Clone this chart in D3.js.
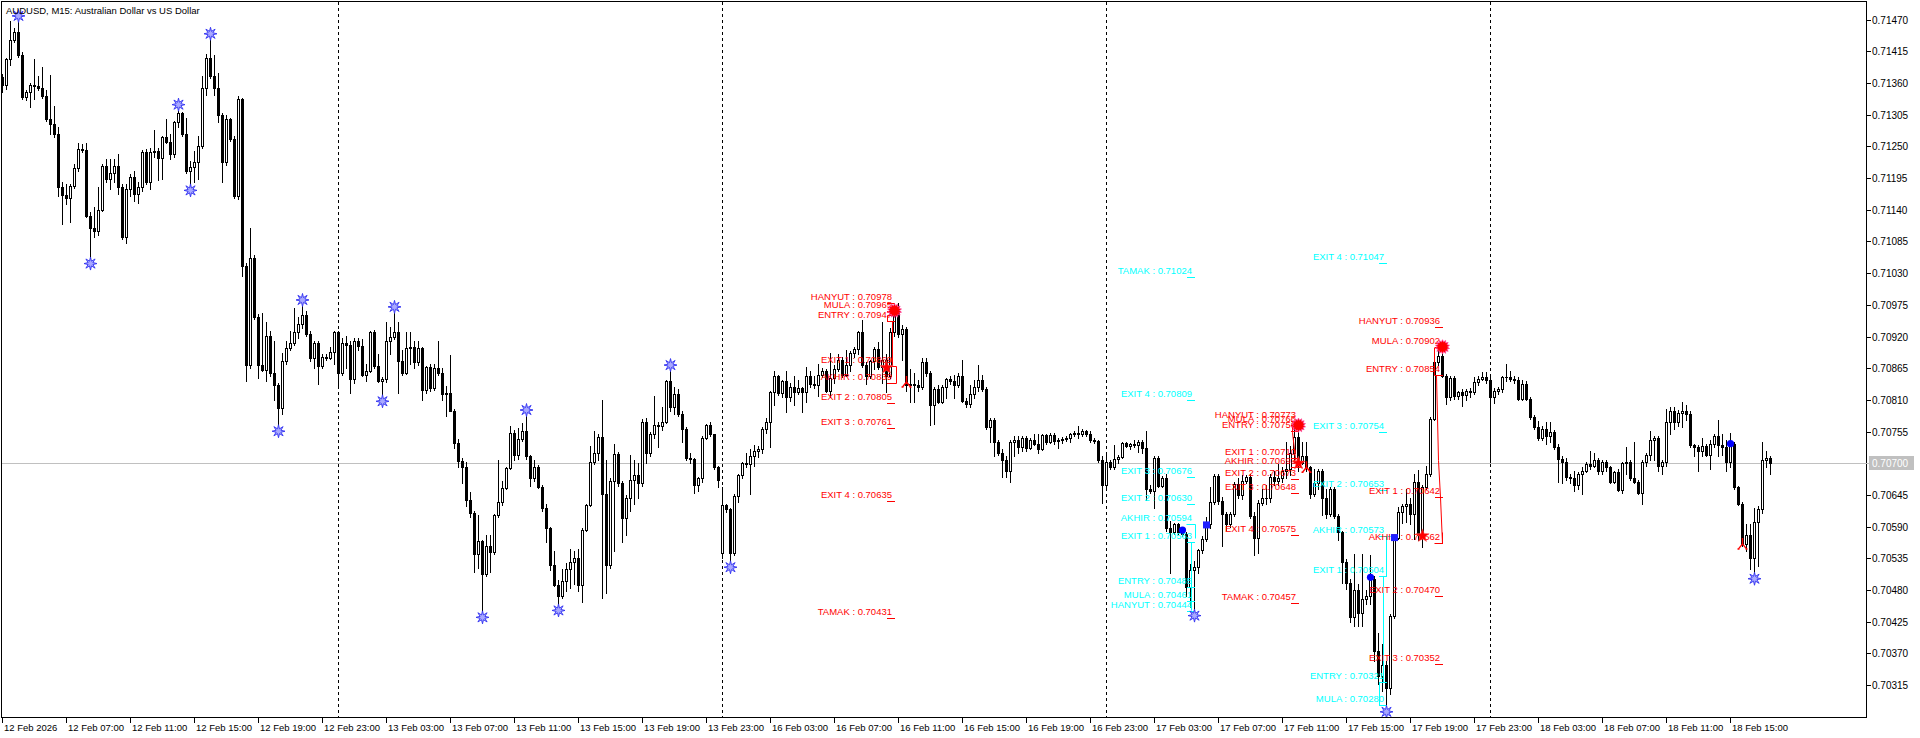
<!DOCTYPE html>
<html><head><meta charset="utf-8">
<script src="https://cdn.jsdelivr.net/npm/d3@7"></script>
<style>
html,body{margin:0;padding:0;background:#fff;}
svg{display:block;}
text{font-family:"Liberation Sans",Arial,sans-serif;}
</style></head><body>
<svg id="chart" width="1920" height="738"></svg>
<script>
// ---------- DATA (prices in points: value / 100000) ----------
const PRICE_DIV = 100000;
const opens = [
71371,71356,71401,71435,71449,71409,71336,71344,71357,71354,
71352,71338,71297,71288,71272,71180,71165,71160,71182,71212,
71246,71244,71130,71109,71103,71140,71216,71194,71204,71216,
71180,71093,71176,71196,71168,71180,71240,71188,71240,71242,
71230,71266,71258,71236,71292,71308,71272,71208,71215,71222,
71250,71352,71403,71372,71352,71304,71222,71297,71262,71164,
71332,71043,70871,71057,70953,70870,70862,70921,70856,70835,
70796,70877,70900,70909,70928,70941,70957,70925,70883,70909,
70868,70885,70883,70893,70928,70856,70909,70906,70846,70913,
70903,70854,70860,70928,70869,70843,70846,70912,70919,70927,
70877,70856,70900,70902,70875,70900,70827,70867,70830,70866,
70856,70820,70822,70791,70736,70704,70694,70636,70614,70543,
70565,70507,70556,70546,70610,70633,70657,70692,70752,70714,
70742,70756,70712,70674,70694,70658,70622,70588,70524,70489,
70469,70495,70516,70529,70535,70489,70585,70628,70702,70718,
70746,70647,70524,70670,70716,70666,70605,70639,70671,70680,
70665,70772,70718,70750,70766,70764,70772,70842,70798,70820,
70785,70760,70709,70707,70662,70674,70744,70766,70750,70693,
70545,70627,70620,70545,70643,70679,70701,70699,70712,70722,
70725,70760,70772,70823,70851,70822,70842,70815,70832,70823,
70830,70823,70852,70838,70835,70854,70861,70826,70848,70864,
70880,70854,70870,70892,70898,70927,70871,70851,70878,70899,
70867,70880,70851,70927,70962,70924,70933,70836,70838,70835,
70833,70876,70856,70801,70829,70807,70832,70846,70842,70835,
70851,70808,70802,70820,70832,70844,70829,70763,70775,70737,
70717,70706,70687,70737,70740,70728,70743,70727,70740,70734,
70725,70749,70737,70749,70738,70741,70742,70744,70751,70753,
70750,70756,70750,70741,70738,70706,70662,70703,70693,70707,
70711,70736,70730,70734,70732,70737,70727,70655,70652,70710,
70661,70675,70588,70580,70594,70580,70577,70485,70515,70520,
70549,70568,70595,70632,70678,70635,70612,70595,70612,70664,
70645,70670,70676,70608,70570,70631,70639,70640,70677,70670,
70674,70687,70690,70718,70745,70700,70712,70693,70646,70665,
70687,70639,70612,70655,70608,70580,70528,70493,70433,70480,
70440,70464,70470,70500,70375,70330,70350,70310,70435,70571,
70615,70626,70630,70612,70667,70575,70658,70681,70777,70875,
70887,70852,70815,70848,70817,70823,70818,70826,70823,70841,
70847,70849,70844,70815,70826,70829,70849,70850,70846,70844,
70812,70838,70812,70780,70763,70743,70760,70748,70754,70728,
70708,70703,70677,70674,70662,70681,70687,70699,70695,70706,
70687,70703,70693,70667,70684,70654,70700,70703,70674,70668,
70649,70703,70715,70741,70744,70696,70703,70772,70791,70772,
70788,70790,70785,70731,70728,70722,70730,70715,70734,70747,
70732,70728,70702,70734,70658,70630,70560,70576,70535,70598,
70620,70706,70709];
const highs = [
71375,71403,71467,71455,71466,71413,71348,71360,71401,71372,
71387,71348,71373,71320,71284,71188,71185,71185,71220,71256,
71254,71256,71136,71144,71180,71220,71228,71228,71228,71236,
71184,71184,71202,71207,71188,71243,71245,71248,71278,71248,
71268,71298,71272,71294,71312,71310,71300,71225,71242,71268,
71372,71411,71435,71409,71377,71308,71304,71300,71268,71338,
71334,71048,71109,71061,70959,70961,70945,70929,70913,70840,
70891,70913,70929,70969,70953,70973,70965,70929,70913,70913,
70889,70889,70901,70929,70929,70917,70921,70913,70917,70917,
70915,70873,70929,70931,70889,70850,70945,70937,70961,70945,
70897,70928,70928,70913,70913,70902,70869,70873,70873,70913,
70865,70834,70888,70795,70742,70710,70702,70650,70617,70610,
70567,70575,70575,70612,70706,70670,70694,70764,70758,70762,
70770,70782,70714,70706,70697,70662,70630,70590,70547,70497,
70517,70527,70551,70547,70551,70588,70630,70730,70756,70750,
70810,70706,70674,70734,70720,70670,70645,70715,70705,70700,
70776,70778,70755,70816,70772,70798,70845,70860,70832,70829,
70791,70763,70718,70710,70677,70747,70769,70772,70751,70696,
70658,70630,70622,70646,70682,70703,70718,70725,70731,70730,
70763,70779,70826,70861,70854,70845,70861,70840,70851,70845,
70832,70867,70861,70852,70873,70866,70864,70892,70870,70889,
70884,70897,70895,70902,70929,70949,70876,70880,70902,70911,
70946,70889,70935,70968,70978,70940,70936,70864,70857,70845,
70883,70882,70861,70832,70835,70836,70848,70852,70854,70856,
70880,70813,70835,70845,70870,70854,70832,70778,70778,70740,
70725,70712,70740,70747,70747,70747,70747,70744,70750,70750,
70751,70751,70752,70753,70744,70746,70747,70753,70756,70764,
70760,70758,70756,70744,70741,70712,70718,70706,70732,70715,
70737,70737,70736,70740,70740,70740,70756,70662,70713,70713,
70678,70681,70600,70597,70596,70590,70580,70525,70530,70552,
70574,70606,70658,70681,70681,70642,70615,70615,70667,70675,
70680,70679,70681,70615,70636,70655,70662,70681,70687,70699,
70693,70737,70730,70773,70760,70737,70737,70695,70690,70690,
70690,70655,70658,70658,70612,70582,70534,70499,70543,70490,
70543,70480,70540,70505,70406,70386,70356,70438,70574,70624,
70629,70655,70640,70681,70688,70663,70695,70780,70878,70902,
70893,70855,70852,70852,70826,70829,70829,70830,70849,70852,
70858,70858,70849,70830,70832,70852,70872,70860,70852,70849,
70845,70842,70815,70783,70774,70765,70771,70771,70757,70734,
70712,70709,70681,70687,70684,70693,70703,70722,70718,70709,
70706,70706,70696,70687,70690,70703,70728,70705,70737,70671,
70706,70718,70756,70747,70747,70706,70794,70797,70797,70793,
70807,70801,70791,70734,70731,70744,70733,70741,70750,70775,
70750,70740,70753,70737,70661,70633,70595,70595,70623,70626,
70737,70722,70712];
const lows = [
71344,71350,71391,71431,71405,71332,71330,71318,71332,71348,
71334,71294,71272,71266,71164,71115,71150,71119,71178,71208,
71240,71128,71057,71093,71097,71138,71188,71176,71188,71168,
71089,71083,71164,71155,71152,71172,71185,71176,71232,71192,
71194,71256,71228,71232,71284,71268,71204,71184,71188,71194,
71248,71340,71368,71340,71292,71188,71218,71260,71160,71158,
71025,70842,70865,70951,70848,70860,70842,70851,70810,70766,
70786,70873,70897,70905,70917,70935,70921,70877,70865,70838,
70865,70880,70881,70873,70830,70854,70865,70822,70840,70897,
70852,70842,70859,70865,70841,70818,70841,70889,70915,70822,
70854,70855,70873,70865,70870,70810,70822,70826,70828,70854,
70810,70782,70790,70726,70694,70666,70626,70606,70511,70519,
70443,70505,70511,70543,70606,70627,70655,70690,70706,70708,
70738,70708,70660,70670,70657,70618,70564,70515,70487,70455,
70466,70479,70483,70491,70479,70459,70583,70626,70698,70706,
70467,70475,70519,70547,70660,70564,70576,70617,70630,70640,
70660,70700,70712,70744,70728,70758,70770,70790,70785,70782,
70737,70706,70700,70648,70652,70668,70742,70747,70690,70658,
70535,70615,70530,70540,70633,70674,70693,70646,70695,70711,
70718,70753,70728,70801,70818,70815,70789,70808,70801,70820,
70789,70807,70832,70830,70816,70850,70823,70815,70839,70860,
70850,70851,70861,70885,70889,70867,70838,70848,70864,70864,
70839,70823,70848,70921,70920,70880,70826,70807,70807,70825,
70829,70851,70766,70769,70804,70805,70813,70838,70813,70832,
70807,70797,70797,70813,70826,70826,70760,70737,70712,70715,
70677,70677,70667,70712,70718,70722,70722,70725,70731,70718,
70723,70734,70735,70733,70726,70735,70738,70737,70748,70744,
70748,70747,70737,70735,70703,70631,70655,70690,70690,70700,
70709,70728,70724,70728,70720,70718,70637,70648,70623,70658,
70658,70582,70510,70578,70577,70574,70470,70450,70446,70510,
70545,70565,70588,70629,70630,70556,70585,70590,70608,70640,
70638,70665,70605,70541,70545,70627,70630,70633,70662,70662,
70668,70674,70680,70700,70687,70698,70687,70640,70643,70655,
70611,70605,70608,70605,70566,70493,70482,70424,70418,70418,
70418,70455,70455,70357,70317,70305,70279,70300,70432,70569,
70596,70598,70595,70568,70566,70554,70655,70678,70775,70870,
70849,70803,70810,70812,70812,70800,70810,70815,70820,70836,
70845,70840,70702,70805,70820,70823,70843,70843,70840,70809,
70809,70809,70777,70760,70740,70740,70734,70737,70725,70667,
70665,70671,70665,70652,70655,70646,70684,70690,70693,70681,
70681,70687,70665,70665,70652,70649,70681,70671,70665,70646,
70630,70696,70706,70706,70687,70681,70696,70750,70759,70765,
70763,70775,70728,70712,70687,70712,70712,70690,70728,70712,
70715,70687,70693,70655,70627,70557,70548,70516,70510,70522,
70614,70693,70681];
const closes = [
71356,71401,71435,71449,71409,71336,71344,71357,71354,71352,
71338,71297,71288,71272,71180,71165,71160,71182,71212,71246,
71244,71130,71109,71103,71140,71216,71194,71204,71216,71180,
71093,71176,71196,71168,71180,71240,71188,71240,71242,71230,
71266,71258,71236,71292,71308,71272,71208,71215,71222,71250,
71352,71403,71372,71352,71304,71222,71297,71262,71164,71332,
71043,70871,71057,70953,70870,70862,70921,70856,70835,70796,
70877,70900,70909,70928,70941,70957,70925,70883,70909,70868,
70885,70883,70893,70928,70856,70909,70906,70846,70913,70903,
70854,70860,70928,70869,70843,70846,70912,70919,70927,70877,
70856,70900,70902,70875,70900,70827,70867,70830,70866,70856,
70820,70822,70791,70736,70704,70694,70636,70614,70543,70565,
70507,70556,70546,70610,70633,70657,70692,70752,70714,70742,
70756,70712,70674,70694,70658,70622,70588,70524,70489,70469,
70495,70516,70529,70535,70489,70585,70628,70702,70718,70746,
70647,70524,70670,70716,70666,70605,70639,70671,70680,70665,
70772,70718,70750,70766,70764,70772,70842,70798,70820,70785,
70760,70709,70707,70662,70674,70744,70766,70750,70693,70671,
70627,70620,70545,70643,70679,70701,70699,70712,70722,70725,
70760,70772,70823,70851,70822,70842,70815,70832,70823,70830,
70823,70852,70838,70835,70854,70861,70826,70848,70864,70880,
70854,70870,70892,70898,70927,70871,70851,70878,70899,70867,
70880,70851,70927,70962,70924,70933,70836,70838,70835,70833,
70876,70856,70801,70829,70807,70832,70846,70842,70835,70851,
70808,70802,70820,70832,70844,70829,70763,70775,70737,70717,
70706,70687,70737,70740,70728,70743,70727,70740,70734,70725,
70749,70737,70749,70738,70741,70742,70744,70751,70753,70750,
70756,70750,70741,70738,70706,70662,70703,70693,70707,70711,
70736,70730,70734,70732,70737,70727,70655,70652,70710,70661,
70675,70588,70580,70594,70580,70577,70485,70515,70520,70549,
70568,70595,70632,70678,70635,70612,70595,70612,70664,70645,
70670,70676,70608,70570,70631,70639,70640,70677,70670,70674,
70687,70690,70718,70745,70700,70712,70693,70646,70665,70687,
70639,70612,70655,70608,70580,70528,70493,70433,70480,70440,
70464,70470,70500,70375,70330,70350,70310,70435,70571,70615,
70626,70630,70612,70667,70575,70658,70681,70777,70875,70887,
70852,70815,70848,70817,70823,70818,70826,70823,70841,70847,
70849,70844,70815,70826,70829,70849,70850,70846,70844,70812,
70838,70812,70780,70763,70743,70760,70748,70754,70728,70708,
70703,70677,70674,70662,70681,70687,70699,70695,70706,70687,
70703,70693,70667,70684,70654,70700,70703,70674,70668,70649,
70703,70715,70741,70744,70696,70703,70772,70791,70772,70788,
70790,70785,70731,70728,70722,70730,70715,70734,70747,70732,
70728,70702,70734,70658,70630,70560,70576,70535,70598,70620,
70706,70709,70700];

const timeTickBars = [0,16,32,48,64,80,96,112,128,144,160,176,192,208,224,240,256,272,288,304,320,336,352,368,384,400,416,432];
const timeTickLabels = ["12 Feb 2026","12 Feb 07:00","12 Feb 11:00","12 Feb 15:00","12 Feb 19:00","12 Feb 23:00",
 "13 Feb 03:00","13 Feb 07:00","13 Feb 11:00","13 Feb 15:00","13 Feb 19:00","13 Feb 23:00",
 "16 Feb 03:00","16 Feb 07:00","16 Feb 11:00","16 Feb 15:00","16 Feb 19:00","16 Feb 23:00",
 "17 Feb 03:00","17 Feb 07:00","17 Feb 11:00","17 Feb 15:00","17 Feb 19:00","17 Feb 23:00",
 "18 Feb 03:00","18 Feb 07:00","18 Feb 11:00","18 Feb 15:00"];
const priceTicks = [0.71470,0.71415,0.71360,0.71305,0.71250,0.71195,0.71140,0.71085,0.71030,0.70975,0.70920,
 0.70865,0.70810,0.70755,0.70700,0.70645,0.70590,0.70535,0.70480,0.70425,0.70370,0.70315];
const currentPrice = 0.70700;
const separatorBars = [84,180,276,372];

const fractalUpBars = [4,44,52,75,98,131,167];
const fractalDownBars = [22,47,69,95,120,139,182,298,346,438];

const burstMarks = [[223,0.70965],[324,0.70766],[360,0.70902]];
const redStarMarks = [[221,0.70866],[324,0.70700],[355,0.70574]];
const redArrowMarks = [[226,0.70841],[326,0.70693],[435,0.70560]];
const blueDotMarks = [[295,0.70584],[342,0.70502],[432,0.70734]];
const blueSquareMarks = [[301,0.70593],[348,0.70571]];

const levelNamesA = ["HANYUT","MULA","ENTRY","EXIT 1","AKHIR","EXIT 2","EXIT 3","EXIT 4","TAMAK"];
const r1Values = [0.70978,0.70965,0.70947,0.70869,0.70839,0.70805,0.70761,0.70635,0.70431];
const c1Names = ["TAMAK","EXIT 4","EXIT 3","EXIT 2","AKHIR","EXIT 1","ENTRY","MULA","HANYUT"];
const c1Values = [0.71024,0.70809,0.70676,0.70630,0.70594,0.70563,0.70485,0.70461,0.70444];
const r3Values = [0.70773,0.70766,0.70756,0.70710,0.70693,0.70673,0.70648,0.70575,0.70457];
const c2Names = ["EXIT 4","EXIT 3","EXIT 2","AKHIR","EXIT 1","ENTRY","MULA"];
const c2Values = [0.71047,0.70754,0.70653,0.70573,0.70504,0.70321,0.70280];
const r4Names = ["HANYUT","MULA","ENTRY","EXIT 1","AKHIR","EXIT 2","EXIT 3"];
const r4Values = [0.70936,0.70902,0.70854,0.70642,0.70562,0.70470,0.70352];

const r1Lines = [[[221.2,0.70958],[223.2,0.70958]],
  [[221.2,0.70958],[221.2,0.70947],[222.5,0.70947],[222.5,0.70869],[223.5,0.70869],[223.5,0.70839],[222.5,0.70839]]];
const c1Lines = [[[296,0.70594],[298.2,0.70594],[298.2,0.70570]],[[296.3,0.70563],[298,0.70563]],[[297.3,0.70563],[297.3,0.70446]]];
const r3Lines = [[[322.5,0.70766],[322.5,0.70754],[323.2,0.70710],[323.8,0.70693],[325,0.70693]]];
const c2Lines = [[[344.2,0.70280],[344.2,0.70321],[345.2,0.70321],[345.2,0.70504],[345.9,0.70504],[345.9,0.70573],[348.2,0.70573]],
  [[344.2,0.70504],[345.9,0.70504]]];
const r4Lines = [[[358,0.70902],[358,0.70854],[358.5,0.70854],[359.1,0.70705],[359.4,0.70642],[359.9,0.70562]],
  [[358,0.70562],[360.1,0.70562],[360.1,0.70580]],[[358.5,0.70642],[359.6,0.70642]]];

// ---------- LAYOUT ----------
const RED = "#ff0000", CYAN = "#00ffff";
const n = Math.min(opens.length, highs.length, lows.length, closes.length);
const bars = d3.range(n).map(i => {
  const o = opens[i]/PRICE_DIV, c = closes[i]/PRICE_DIV;
  return {i, o, c, h: Math.max(highs[i]/PRICE_DIV, o, c), l: Math.min(lows[i]/PRICE_DIV, o, c)};
});

const svg = d3.select("#chart");
const x = d3.scaleLinear().domain([0, 442]).range([2, 1770]);
const y = d3.scaleLinear().domain([0.70315, 0.71470]).range([685.1, 19.6]);
const PLOT = {l: 2, r: 1866, t: 2, b: 717};

svg.append("defs").append("clipPath").attr("id","clip")
  .append("rect").attr("x",PLOT.l).attr("y",PLOT.t).attr("width",PLOT.r-PLOT.l).attr("height",PLOT.b-PLOT.t);

const plot = svg.append("g").attr("clip-path","url(#clip)");

// current price line
const yCur = Math.round(y(currentPrice));
plot.append("rect").attr("x",PLOT.l).attr("y",yCur).attr("width",PLOT.r-PLOT.l).attr("height",1).attr("fill","#c0c0c0");

// period separators
plot.selectAll("line.sep").data(separatorBars).join("line").attr("class","sep")
  .attr("x1",d=>Math.round(x(d))+0.5).attr("x2",d=>Math.round(x(d))+0.5)
  .attr("y1",PLOT.t).attr("y2",PLOT.b)
  .attr("stroke","#000").attr("stroke-width",1).attr("stroke-dasharray","3,3");

// candles
const cg = plot.append("g").attr("shape-rendering","crispEdges");
const cand = cg.selectAll("g.c").data(bars).join("g").attr("class","c");
cand.append("rect")
  .attr("x",d=>Math.round(x(d.i)))
  .attr("y",d=>Math.round(y(d.h)))
  .attr("width",1)
  .attr("height",d=>Math.max(1, Math.round(y(d.l)) - Math.round(y(d.h)) + 1))
  .attr("fill","#000");
cand.append("rect")
  .attr("x",d=>Math.round(x(d.i))-1)
  .attr("y",d=>Math.round(y(Math.max(d.o,d.c))))
  .attr("width",3)
  .attr("height",d=>Math.round(y(Math.min(d.o,d.c))) - Math.round(y(Math.max(d.o,d.c))) + 1)
  .attr("fill","#000");
cand.filter(d => d.c > d.o && (Math.round(y(d.o)) - Math.round(y(d.c))) >= 2)
  .append("rect")
  .attr("x",d=>Math.round(x(d.i)))
  .attr("y",d=>Math.round(y(d.c))+1)
  .attr("width",1)
  .attr("height",d=>Math.round(y(d.o)) - Math.round(y(d.c)) - 1)
  .attr("fill","#fff");

// connector lines
const lineGen = d3.line().x(d=>Math.round(x(d[0]))+0.5).y(d=>Math.round(y(d[1]))+0.5);
function drawLines(list, color){
  plot.append("g").selectAll("path").data(list).join("path")
    .attr("d", lineGen).attr("fill","none").attr("stroke",color).attr("stroke-width",1);
}
drawLines(r1Lines, RED); drawLines(c1Lines, CYAN); drawLines(r3Lines, RED);
drawLines(c2Lines, CYAN); drawLines(r4Lines, RED);

// level labels
function drawLabels(names, values, anchorBar, color){
  const ax = Math.round(x(anchorBar));
  const g = plot.append("g");
  const items = names.map((nm,k)=>({nm, v: values[k]}));
  g.selectAll("rect").data(items).join("rect")
    .attr("x",ax-3).attr("y",d=>Math.round(y(d.v))).attr("width",8).attr("height",1).attr("fill",color);
  g.selectAll("text").data(items).join("text")
    .attr("x",ax+2).attr("y",d=>Math.round(y(d.v))-3)
    .attr("text-anchor","end").attr("font-size","9.5px").attr("fill",color)
    .text(d=>`${d.nm} : ${d.v.toFixed(5)}`);
}
drawLabels(levelNamesA, r1Values, 222, RED);
drawLabels(c1Names, c1Values, 297, CYAN);
drawLabels(levelNamesA, r3Values, 323, RED);
drawLabels(c2Names, c2Values, 345, CYAN);
drawLabels(r4Names, r4Values, 359, RED);

// marker shapes
function starPath(points, rOut, rIn, rot){
  const pts = [];
  for (let k=0;k<points*2;k++){
    const r = k%2===0 ? rOut : rIn;
    const a = rot + k*Math.PI/points;
    pts.push([r*Math.sin(a), -r*Math.cos(a)]);
  }
  return "M" + pts.map(p=>p[0].toFixed(2)+","+p[1].toFixed(2)).join("L") + "Z";
}
const fracStar = starPath(8, 6.5, 2.6, 0);
const fr = plot.append("g");
fr.selectAll("path.up").data(fractalUpBars).join("path").attr("class","up")
  .attr("transform",d=>`translate(${x(d)+0.5},${y(bars[d].h)-6})`)
  .attr("d",fracStar).attr("fill","#a8a8ff").attr("stroke","#3030f0").attr("stroke-width",0.9);
fr.selectAll("path.dn").data(fractalDownBars).join("path").attr("class","dn")
  .attr("transform",d=>`translate(${x(d)+0.5},${y(bars[d].l)+6})`)
  .attr("d",fracStar).attr("fill","#a8a8ff").attr("stroke","#3030f0").attr("stroke-width",0.9);

const mk = plot.append("g");
mk.selectAll("path.burst").data(burstMarks).join("path").attr("class","burst")
  .attr("transform",d=>`translate(${x(d[0])+0.5},${y(d[1])})`)
  .attr("d",starPath(14,7.2,5,0)).attr("fill",RED).attr("stroke","#ff40a0").attr("stroke-width",0.7);
mk.selectAll("path.rstar").data(redStarMarks).join("path").attr("class","rstar")
  .attr("transform",d=>`translate(${x(d[0])+0.5},${y(d[1])})`)
  .attr("d",starPath(5,7,2.8,0)).attr("fill",RED).attr("stroke","#ff6060").attr("stroke-width",0.5);
mk.selectAll("path.rarrow").data(redArrowMarks).join("path").attr("class","rarrow")
  .attr("transform",d=>`translate(${x(d[0])+0.5},${y(d[1])})`)
  .attr("d","M0,-6L0,0M0,0L-4,5M0,0L4,5M-5,5L-3,5M3,5L5,5").attr("fill","none").attr("stroke",RED).attr("stroke-width",1.4);
mk.selectAll("circle.bd").data(blueDotMarks).join("circle").attr("class","bd")
  .attr("cx",d=>x(d[0])+0.5).attr("cy",d=>y(d[1])).attr("r",3.6).attr("fill","#0000ff");
mk.selectAll("rect.bs").data(blueSquareMarks).join("rect").attr("class","bs")
  .attr("x",d=>x(d[0])-3).attr("y",d=>y(d[1])-3.5).attr("width",7).attr("height",7).attr("fill","#2020ff");

// frame
svg.append("rect").attr("x",1.5).attr("y",1.5).attr("width",1865).attr("height",716)
  .attr("fill","none").attr("stroke","#000").attr("stroke-width",1);

// title
svg.append("text").attr("x",6).attr("y",13.5).attr("font-size","9.5px").attr("fill","#000")
  .text("AUDUSD, M15:  Australian Dollar vs US Dollar");

// right price axis
const ra = svg.append("g").attr("shape-rendering","crispEdges");
const shownTicks = priceTicks.filter(p => Math.abs(p-currentPrice) > 1e-7);
ra.selectAll("line").data(shownTicks).join("line")
  .attr("x1",1867).attr("x2",1871)
  .attr("y1",d=>Math.round(y(d))+0.5).attr("y2",d=>Math.round(y(d))+0.5)
  .attr("stroke","#000");
svg.append("g").selectAll("text").data(shownTicks).join("text")
  .attr("x",1872).attr("y",d=>Math.round(y(d))+4)
  .attr("font-size","10px").attr("fill","#000").text(d=>d.toFixed(5));
svg.append("rect").attr("x",1866).attr("y",yCur).attr("width",4).attr("height",1).attr("fill","#c0c0c0");
svg.append("rect").attr("x",1869).attr("y",yCur-7).attr("width",45).attr("height",14).attr("fill","#c0c0c0");
svg.append("text").attr("x",1872).attr("y",yCur+4).attr("font-size","10px").attr("fill","#fff").text(currentPrice.toFixed(5));

// bottom time axis
const ba = svg.append("g").attr("shape-rendering","crispEdges");
ba.selectAll("line").data(timeTickBars).join("line")
  .attr("x1",d=>Math.round(x(d))+0.5).attr("x2",d=>Math.round(x(d))+0.5)
  .attr("y1",718).attr("y2",723).attr("stroke","#000");
svg.append("g").selectAll("text").data(timeTickBars).join("text")
  .attr("x",d=>Math.round(x(d))+2).attr("y",731)
  .attr("font-size","9.5px").attr("fill","#000").text((d,k)=>timeTickLabels[k]);
</script>
</body></html>
